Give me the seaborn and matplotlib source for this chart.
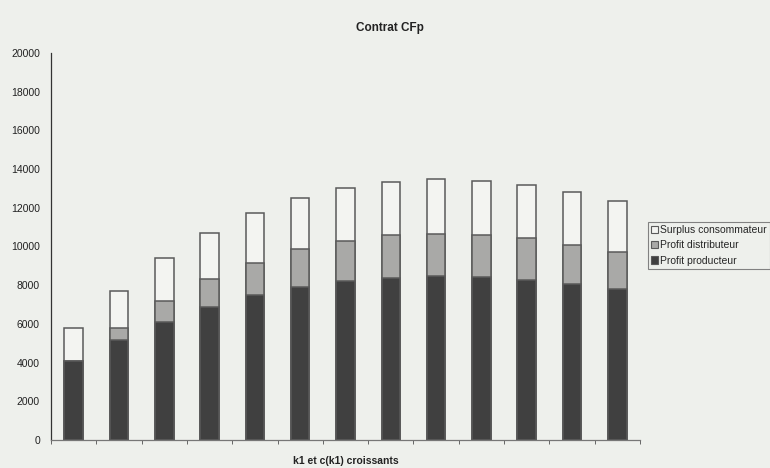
import matplotlib
matplotlib.use("Agg")
import matplotlib.pyplot as plt
from matplotlib.patches import Patch
import numpy as np
import pandas as pd
import seaborn as sns

# Welfare split for the CFp contract, one bar per (k1, c(k1)) step
steps = [str(i) for i in range(1, 14)]
profit_producteur = [4090, 5170, 6100, 6860, 7470, 7930, 8230, 8360, 8450, 8400, 8280, 8070, 7790]
profit_distributeur = [0, 610, 1090, 1450, 1700, 1930, 2080, 2210, 2210, 2210, 2150, 2030, 1900]
surplus_consommateur = [1690, 1930, 2190, 2380, 2560, 2640, 2710, 2760, 2830, 2790, 2760, 2710, 2640]
y_ticks = [0, 2000, 4000, 6000, 8000, 10000, 12000, 14000, 16000, 18000, 20000]

labels = ["Surplus consommateur", "Profit distributeur", "Profit producteur"]
colors = {"Profit producteur": "#404040",
          "Profit distributeur": "#a9a9a7",
          "Surplus consommateur": "#f3f4f1"}
bg = "#eef0ec"
edge = "#5a5a5a"

df = pd.DataFrame({
    "step": steps,
    "Profit producteur": profit_producteur,
    "Profit distributeur": profit_distributeur,
    "Surplus consommateur": surplus_consommateur,
})
df["top_prod"] = df["Profit producteur"]
df["top_dist"] = df["top_prod"] + df["Profit distributeur"]
df["top_surp"] = df["top_dist"] + df["Surplus consommateur"]

sns.set_style("white")
plt.rcParams["font.family"] = ["Liberation Sans", "DejaVu Sans"]

fig = plt.figure(figsize=(7.7, 4.68), dpi=100, facecolor=bg)
ax = fig.add_axes([51 / 770, 28 / 468, 589 / 770, 387 / 468])
ax.set_facecolor(bg)

# Stack by layering cumulative totals, tallest first
for col, name in [("top_surp", "Surplus consommateur"),
                  ("top_dist", "Profit distributeur"),
                  ("top_prod", "Profit producteur")]:
    sns.barplot(data=df, x="step", y=col, color=colors[name], width=0.41,
                edgecolor=edge, linewidth=1.1, saturation=1, ax=ax, zorder=2)

ax.set_xlim(-0.5, len(steps) - 0.5)
ax.set_ylim(0, 20000)
ax.set_yticks(y_ticks)
ax.set_yticklabels([str(v) for v in y_ticks], fontsize=7.5)
ax.set_xticks([])
ax.set_xticks(np.arange(-0.5, len(steps), 1.0), minor=True)
ax.tick_params(axis="x", which="minor", length=3, width=0.7, color="#666666", direction="out", bottom=True)
ax.tick_params(axis="y", length=0, pad=8, colors="#222222")
ax.set_ylabel("")
ax.set_xlabel("k1 et c(k1) croissants", fontsize=7.5, fontweight="bold", labelpad=5, color="#222222")

for s in ["top", "right"]:
    ax.spines[s].set_visible(False)
ax.spines["left"].set_color("#333333")
ax.spines["left"].set_linewidth(0.9)
ax.spines["bottom"].set_color("#777777")
ax.spines["bottom"].set_linewidth(0.9)

fig.text(390 / 770, 1 - 28 / 468, "Contrat CFp", ha="center", va="center",
         fontsize=8.5, fontweight="bold", color="#222222")

handles = [Patch(facecolor=colors[n], edgecolor=edge, linewidth=0.8) for n in labels]
leg = fig.legend(handles, labels, loc="upper left", bbox_to_anchor=(648 / 770, 1 - 222 / 468),
                 fontsize=7.5, frameon=True, fancybox=False, handlelength=0.7, handleheight=0.7,
                 handletextpad=0.2, borderpad=0.3, labelspacing=0.5, borderaxespad=0)
leg.get_frame().set_edgecolor("#666666")
leg.get_frame().set_linewidth(0.8)
leg.get_frame().set_facecolor(bg)

fig.savefig("out.png", dpi=100, facecolor=bg)
